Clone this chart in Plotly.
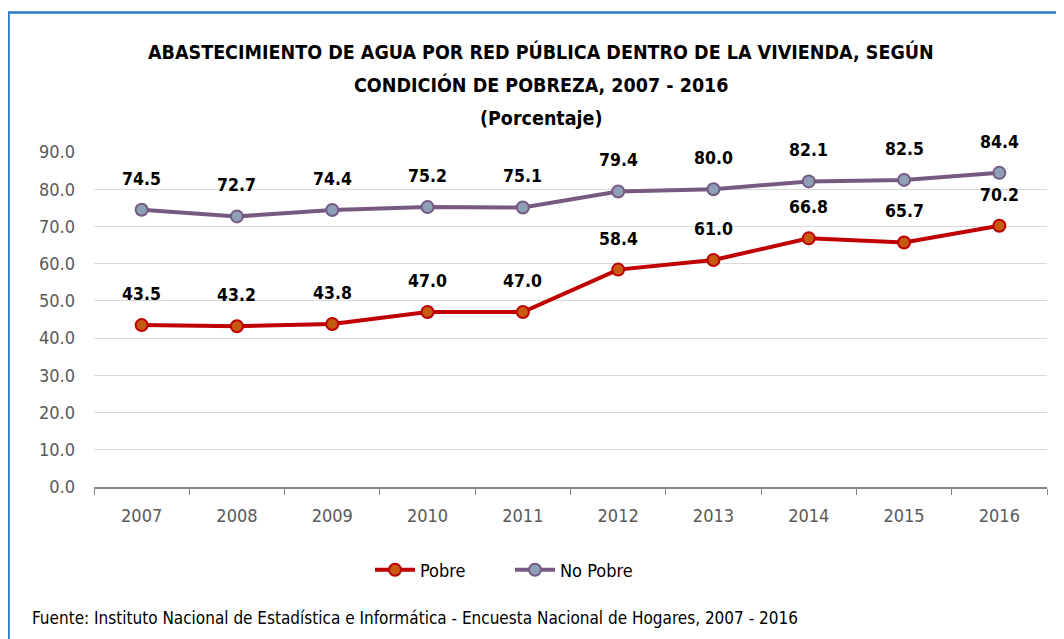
import plotly.graph_objects as go

years = ["2007", "2008", "2009", "2010", "2011", "2012", "2013", "2014", "2015", "2016"]
pobre = [43.5, 43.2, 43.8, 47.0, 47.0, 58.4, 61.0, 66.8, 65.7, 70.2]
no_pobre = [74.5, 72.7, 74.4, 75.2, 75.1, 79.4, 80.0, 82.1, 82.5, 84.4]
y_ticks = [0, 10, 20, 30, 40, 50, 60, 70, 80, 90]

# page has 8px body offset; compensate
OFF = 8
W, H = 1064, 639
PL, PR, PT, PB = 94, 1047, 152, 487  # target plot-area pixels in the screenshot
L, T = PL - OFF, PT - OFF
PW, PH = PR - PL, PB - PT
R = W - L - PW
B = H - T - PH


def px(x):
    return (x - PL) / PW


def py(y):
    return (PB - y) / PH


TITLE_FONT = "Liberation Sans Narrow, DejaVu Sans Condensed, Arial Narrow, sans-serif"
BODY_FONT = "Liberation Sans Narrow, DejaVu Sans Condensed, sans-serif"

fig = go.Figure()
fig.add_trace(go.Scatter(
    x=years, y=pobre, name="Pobre", mode="lines+markers",
    line=dict(color="#c00000", width=4),
    marker=dict(size=12, color="#c55a11", line=dict(color="#c00000", width=2)),
))
fig.add_trace(go.Scatter(
    x=years, y=no_pobre, name="No Pobre", mode="lines+markers",
    line=dict(color="#765a82", width=4),
    marker=dict(size=12, color="#8ea0b8", line=dict(color="#765a82", width=2)),
))

annotations = []
for series in (pobre, no_pobre):
    for i, v in enumerate(series):
        annotations.append(dict(
            x=i, y=v, xref="x", yref="y", text=f"<b>{v:.1f}</b>", showarrow=False,
            yshift=31, font=dict(family=BODY_FONT, size=17.5, color="#000000"),
        ))

title_lines = [
    ("ABASTECIMIENTO DE AGUA POR RED PÚBLICA DENTRO DE LA VIVIENDA, SEGÚN", 52),
    ("CONDICIÓN DE POBREZA, 2007 - 2016", 85),
    ("(Porcentaje)", 118),
]
for txt, ypix in title_lines:
    annotations.append(dict(
        x=px(541), y=py(ypix), xref="paper", yref="paper", text=f"<b>{txt}</b>",
        showarrow=False, xanchor="center", yanchor="middle",
        font=dict(family=TITLE_FONT, size=19.5, color="#000000"),
    ))

annotations.append(dict(
    x=px(30), y=py(618), xref="paper", yref="paper",
    text="Fuente: Instituto Nacional de Estadística e Informática - Encuesta Nacional de Hogares, 2007 - 2016",
    showarrow=False, xanchor="left", yanchor="middle",
    font=dict(family=BODY_FONT, size=17, color="#000000"),
))

shapes = [
    dict(type="line", xref="paper", yref="paper", x0=px(8), x1=px(1080), y0=py(12.5), y1=py(12.5),
         line=dict(color="#2a78c6", width=2.5)),
    dict(type="line", xref="paper", yref="paper", x0=px(8.5), x1=px(8.5), y0=py(12), y1=py(660),
         line=dict(color="#2a78c6", width=2.5)),
]

fig.update_layout(
    width=W, height=H,
    margin=dict(l=L, r=R, t=T, b=B),
    paper_bgcolor="white", plot_bgcolor="white",
    showlegend=True,
    legend=dict(orientation="h", x=px(510), y=py(570), xanchor="center", yanchor="middle",
                font=dict(family=BODY_FONT, size=18, color="#000000"), itemwidth=40,
                entrywidth=85, bgcolor="rgba(0,0,0,0)"),
    annotations=annotations,
    shapes=shapes,
    xaxis=dict(type="category", range=[-0.5, 9.5], showgrid=False, showline=True,
               linecolor="#868686", linewidth=1.5, ticks="outside", tickson="boundaries",
               ticklen=6, tickcolor="#868686", ticklabelstandoff=12,
               tickfont=dict(family=BODY_FONT, size=18, color="#595959"), zeroline=False),
    yaxis=dict(range=[0, 90], tickvals=y_ticks, ticktext=[f"{t:.1f}" for t in y_ticks],
               showgrid=True, gridcolor="#d9d9d9", gridwidth=1, zeroline=False, showline=False,
               tickfont=dict(family=BODY_FONT, size=18, color="#595959"), ticks="", ticklabelstandoff=18),
)

fig.write_html("out.html")
